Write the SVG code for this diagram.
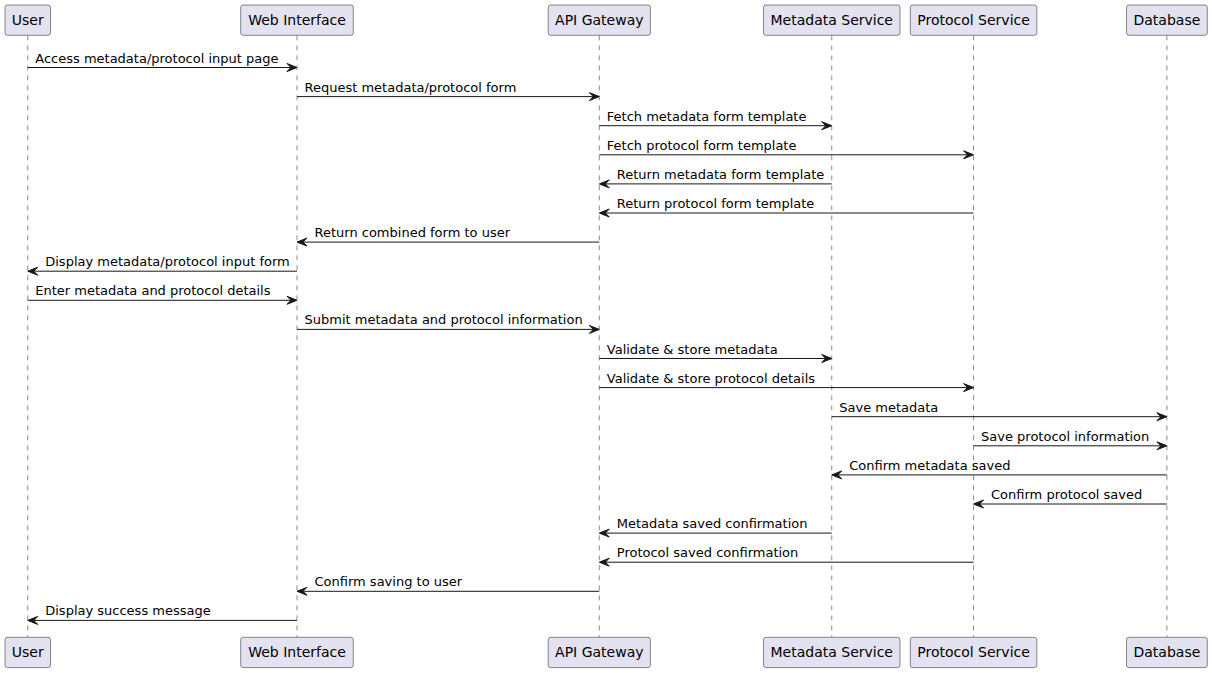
<svg xmlns="http://www.w3.org/2000/svg" width="1212" height="673" viewBox="0 0 1212 673">
<style>
.box{fill:#E2E2F0;stroke:#181818;stroke-width:0.5}
.pl{font-family:"DejaVu Sans",sans-serif;font-size:14px;fill:#000;text-anchor:middle}
.life{stroke:#181818;stroke-width:0.5;stroke-dasharray:5,5;fill:none}
.msg{stroke:#181818;stroke-width:1;fill:none}
.head{fill:#181818;stroke:#181818;stroke-width:1}
.ml{font-family:"DejaVu Sans",sans-serif;font-size:13px;fill:#000}
</style>
<rect width="1212" height="673" fill="#FFFFFF"/>
<g id="lifelines">
<line class="life" x1="27.75" y1="35.3" x2="27.75" y2="637.3"/>
<line class="life" x1="297" y1="35.3" x2="297" y2="637.3"/>
<line class="life" x1="599.3" y1="35.3" x2="599.3" y2="637.3"/>
<line class="life" x1="831.75" y1="35.3" x2="831.75" y2="637.3"/>
<line class="life" x1="973.55" y1="35.3" x2="973.55" y2="637.3"/>
<line class="life" x1="1166.9" y1="35.3" x2="1166.9" y2="637.3"/>
</g>
<g id="user">
<rect class="box" x="5" y="5" width="45.5" height="30.3" rx="2.5"/>
<text class="pl" x="27.75" y="25">User</text>
<rect class="box" x="5" y="637.3" width="45.5" height="30.3" rx="2.5"/>
<text class="pl" x="27.75" y="657.3">User</text>
</g>
<g id="web">
<rect class="box" x="240.7" y="5" width="112.6" height="30.3" rx="2.5"/>
<text class="pl" x="297" y="25">Web Interface</text>
<rect class="box" x="240.7" y="637.3" width="112.6" height="30.3" rx="2.5"/>
<text class="pl" x="297" y="657.3">Web Interface</text>
</g>
<g id="api">
<rect class="box" x="548.2" y="5" width="102.2" height="30.3" rx="2.5"/>
<text class="pl" x="599.3" y="25">API Gateway</text>
<rect class="box" x="548.2" y="637.3" width="102.2" height="30.3" rx="2.5"/>
<text class="pl" x="599.3" y="657.3">API Gateway</text>
</g>
<g id="metadata">
<rect class="box" x="763.5" y="5" width="136.5" height="30.3" rx="2.5"/>
<text class="pl" x="831.75" y="25">Metadata Service</text>
<rect class="box" x="763.5" y="637.3" width="136.5" height="30.3" rx="2.5"/>
<text class="pl" x="831.75" y="657.3">Metadata Service</text>
</g>
<g id="protocol">
<rect class="box" x="910.3" y="5" width="126.5" height="30.3" rx="2.5"/>
<text class="pl" x="973.55" y="25">Protocol Service</text>
<rect class="box" x="910.3" y="637.3" width="126.5" height="30.3" rx="2.5"/>
<text class="pl" x="973.55" y="657.3">Protocol Service</text>
</g>
<g id="database">
<rect class="box" x="1126.5" y="5" width="80.8" height="30.3" rx="2.5"/>
<text class="pl" x="1166.9" y="25">Database</text>
<rect class="box" x="1126.5" y="637.3" width="80.8" height="30.3" rx="2.5"/>
<text class="pl" x="1166.9" y="657.3">Database</text>
</g>
<g id="connectors">
<!-- 0 User->Web -->
<line class="msg" x1="27.75" y1="67.5" x2="296" y2="67.5"/>
<polygon class="head" points="287,63.5 297,67.5 287,71.5 291,67.5"/>
<text class="ml" x="35.25" y="62.5">Access metadata/protocol input page</text>
<!-- 1 Web->API -->
<line class="msg" x1="297" y1="96.6" x2="598.3" y2="96.6"/>
<polygon class="head" points="589.3,92.6 599.3,96.6 589.3,100.6 593.3,96.6"/>
<text class="ml" x="304.5" y="91.6">Request metadata/protocol form</text>
<!-- 2 API->Meta -->
<line class="msg" x1="599.3" y1="125.7" x2="830.75" y2="125.7"/>
<polygon class="head" points="821.75,121.7 831.75,125.7 821.75,129.7 825.75,125.7"/>
<text class="ml" x="606.8" y="120.7">Fetch metadata form template</text>
<!-- 3 API->Proto -->
<line class="msg" x1="599.3" y1="154.8" x2="972.55" y2="154.8"/>
<polygon class="head" points="963.55,150.8 973.55,154.8 963.55,158.8 967.55,154.8"/>
<text class="ml" x="606.8" y="149.8">Fetch protocol form template</text>
<!-- 4 Meta->API -->
<line class="msg" x1="600.3" y1="183.9" x2="831.75" y2="183.9"/>
<polygon class="head" points="609.3,179.9 599.3,183.9 609.3,187.9 605.3,183.9"/>
<text class="ml" x="616.8" y="178.9">Return metadata form template</text>
<!-- 5 Proto->API -->
<line class="msg" x1="600.3" y1="213" x2="973.55" y2="213"/>
<polygon class="head" points="609.3,209 599.3,213 609.3,217 605.3,213"/>
<text class="ml" x="616.8" y="208">Return protocol form template</text>
<!-- 6 API->Web -->
<line class="msg" x1="298" y1="242.1" x2="599.3" y2="242.1"/>
<polygon class="head" points="307,238.1 297,242.1 307,246.1 303,242.1"/>
<text class="ml" x="314.5" y="237.1">Return combined form to user</text>
<!-- 7 Web->User -->
<line class="msg" x1="28.75" y1="271.2" x2="297" y2="271.2"/>
<polygon class="head" points="37.75,267.2 27.75,271.2 37.75,275.2 33.75,271.2"/>
<text class="ml" x="45.25" y="266.2">Display metadata/protocol input form</text>
<!-- 8 User->Web -->
<line class="msg" x1="27.75" y1="300.3" x2="296" y2="300.3"/>
<polygon class="head" points="287,296.3 297,300.3 287,304.3 291,300.3"/>
<text class="ml" x="35.25" y="295.3">Enter metadata and protocol details</text>
<!-- 9 Web->API -->
<line class="msg" x1="297" y1="329.4" x2="598.3" y2="329.4"/>
<polygon class="head" points="589.3,325.4 599.3,329.4 589.3,333.4 593.3,329.4"/>
<text class="ml" x="304.5" y="324.4">Submit metadata and protocol information</text>
<!-- 10 API->Meta -->
<line class="msg" x1="599.3" y1="358.5" x2="830.75" y2="358.5"/>
<polygon class="head" points="821.75,354.5 831.75,358.5 821.75,362.5 825.75,358.5"/>
<text class="ml" x="606.8" y="353.5">Validate &amp; store metadata</text>
<!-- 11 API->Proto -->
<line class="msg" x1="599.3" y1="387.6" x2="972.55" y2="387.6"/>
<polygon class="head" points="963.55,383.6 973.55,387.6 963.55,391.6 967.55,387.6"/>
<text class="ml" x="606.8" y="382.6">Validate &amp; store protocol details</text>
<!-- 12 Meta->DB -->
<line class="msg" x1="831.75" y1="416.7" x2="1165.9" y2="416.7"/>
<polygon class="head" points="1156.9,412.7 1166.9,416.7 1156.9,420.7 1160.9,416.7"/>
<text class="ml" x="839.25" y="411.7">Save metadata</text>
<!-- 13 Proto->DB -->
<line class="msg" x1="973.55" y1="445.8" x2="1165.9" y2="445.8"/>
<polygon class="head" points="1156.9,441.8 1166.9,445.8 1156.9,449.8 1160.9,445.8"/>
<text class="ml" x="981.05" y="440.8">Save protocol information</text>
<!-- 14 DB->Meta -->
<line class="msg" x1="832.75" y1="474.9" x2="1166.9" y2="474.9"/>
<polygon class="head" points="841.75,470.9 831.75,474.9 841.75,478.9 837.75,474.9"/>
<text class="ml" x="849.25" y="469.9">Confirm metadata saved</text>
<!-- 15 DB->Proto -->
<line class="msg" x1="974.55" y1="504" x2="1166.9" y2="504"/>
<polygon class="head" points="983.55,500 973.55,504 983.55,508 979.55,504"/>
<text class="ml" x="991.05" y="499">Confirm protocol saved</text>
<!-- 16 Meta->API -->
<line class="msg" x1="600.3" y1="533.1" x2="831.75" y2="533.1"/>
<polygon class="head" points="609.3,529.1 599.3,533.1 609.3,537.1 605.3,533.1"/>
<text class="ml" x="616.8" y="528.1">Metadata saved confirmation</text>
<!-- 17 Proto->API -->
<line class="msg" x1="600.3" y1="562.2" x2="973.55" y2="562.2"/>
<polygon class="head" points="609.3,558.2 599.3,562.2 609.3,566.2 605.3,562.2"/>
<text class="ml" x="616.8" y="557.2">Protocol saved confirmation</text>
<!-- 18 API->Web -->
<line class="msg" x1="298" y1="591.3" x2="599.3" y2="591.3"/>
<polygon class="head" points="307,587.3 297,591.3 307,595.3 303,591.3"/>
<text class="ml" x="314.5" y="586.3">Confirm saving to user</text>
<!-- 19 Web->User -->
<line class="msg" x1="28.75" y1="620.4" x2="297" y2="620.4"/>
<polygon class="head" points="37.75,616.4 27.75,620.4 37.75,624.4 33.75,620.4"/>
<text class="ml" x="45.25" y="615.4">Display success message</text>
</g>
</svg>
